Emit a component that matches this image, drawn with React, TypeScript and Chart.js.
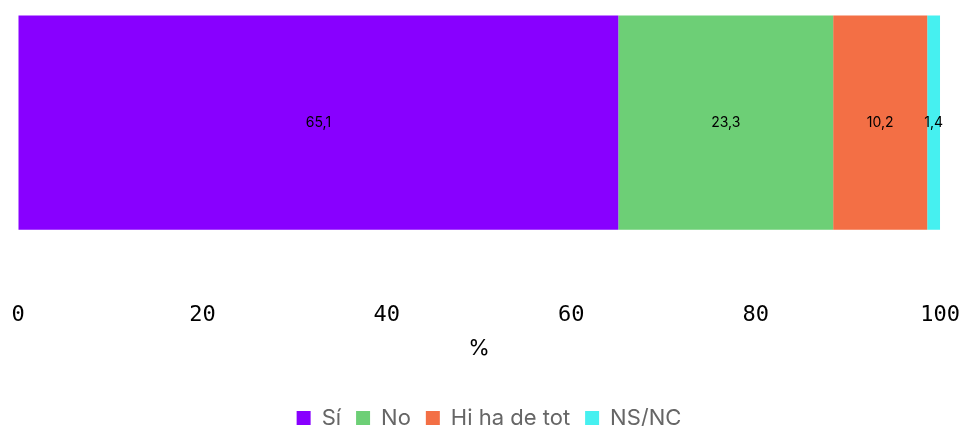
import React, { useEffect, useRef } from "react";
import { Chart, registerables } from "chart.js";

Chart.register(...registerables);

const categories = [""];
const seriesNames = ["Sí", "No", "Hi ha de tot", "NS/NC"];
const seriesValues = [[65.1], [23.3], [10.2], [1.4]];
const seriesColors = ["#8800ff", "#6dcf76", "#f36f45", "#46f0f0"];
const axisTitle = "%";

const fmt = (v: number) => v.toFixed(1).replace(".", ",");

const labelPlugin = {
  id: "barLabels",
  afterDatasetsDraw(chart: any) {
    const ctx = chart.ctx;
    ctx.save();
    ctx.font = "14px Inter";
    ctx.fillStyle = "#000";
    ctx.textAlign = "center";
    ctx.textBaseline = "middle";
    chart.data.datasets.forEach((ds: any, i: number) => {
      const meta = chart.getDatasetMeta(i);
      meta.data.forEach((el: any, j: number) => {
        const v = ds.data[j];
        const cx = (el.x + el.base) / 2;
        ctx.fillText(fmt(v), cx, el.y);
      });
    });
    ctx.restore();
  },
};

export default function App() {
  const ref = useRef<HTMLCanvasElement>(null);
  useEffect(() => {
    if (!ref.current) return;
    const chart = new Chart(ref.current, {
      type: "bar",
      data: {
        labels: categories,
        datasets: seriesNames.map((n, i) => ({
          label: n,
          data: seriesValues[i],
          backgroundColor: seriesColors[i],
          borderWidth: 0,
          barPercentage: 0.9185,
          categoryPercentage: 1,
        })),
      },
      options: {
        indexAxis: "y",
        animation: false,
        responsive: true,
        maintainAspectRatio: false,
        layout: { padding: { left: 18, top: 6, right: 0, bottom: 0 } },
        scales: {
          x: {
            stacked: true,
            min: 0,
            max: 100,
            grid: {
              display: true,
              color: "rgba(0,0,0,0)",
              drawOnChartArea: false,
              drawTicks: true,
              tickLength: 63,
            },
            border: { display: false },
            ticks: {
              stepSize: 20,
              padding: 0,
              color: "#000",
              font: { family: "DejaVu Sans Mono", size: 22 },
            },
            title: {
              display: true,
              text: axisTitle,
              color: "#000",
              font: { family: "Inter", size: 22 },
              padding: { top: 7, bottom: 30 },
            },
          },
          y: {
            stacked: true,
            display: false,
          },
        },
        plugins: {
          legend: {
            position: "bottom",
            labels: {
              boxWidth: 14,
              boxHeight: 14,
              padding: 15,
              color: "#666",
              font: { family: "Inter", size: 22 },
            },
          },
          tooltip: { enabled: false },
        },
      },
      plugins: [labelPlugin],
    });
    return () => chart.destroy();
  }, []);
  return (
    <div style={{ position: "fixed", left: 0, top: 0, width: 960, height: 439 }}>
      <canvas ref={ref} />
    </div>
  );
}
